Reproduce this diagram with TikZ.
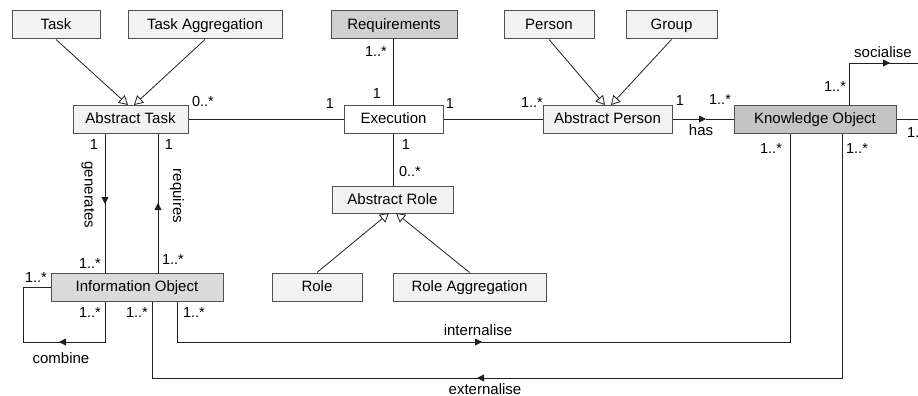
\documentclass[tikz,border=0pt]{standalone}
\usepackage{fontspec}
\setmainfont{Liberation Sans}
\usetikzlibrary{arrows.meta}

\definecolor{boxlight}{HTML}{F2F2F2}
\definecolor{boxinfo}{HTML}{DADADA}
\definecolor{boxreq}{HTML}{D0D0D0}
\definecolor{boxko}{HTML}{C4C4C4}
\definecolor{boxedge}{HTML}{505050}
\definecolor{wire}{HTML}{202020}

\tikzset{
  cls/.style={draw=boxedge, line width=1pt, minimum height=28pt, inner sep=0pt,
              text height=11pt, text depth=2pt,
              font=\fontsize{15}{18}\selectfont},
  lightcls/.style={cls, fill=boxlight},
  conn/.style={draw=wire, line width=0.8pt},
  gen/.style={conn, -{Triangle[fill=white, length=9pt, width=10pt]}},
  dirtip/.style={-{Triangle[length=7pt, width=7pt]}},
  mult/.style={inner sep=0pt, font=\fontsize{14.5}{17}\selectfont},
  rolelbl/.style={inner sep=0pt, font=\fontsize{15}{18}\selectfont},
}

\begin{document}
\begin{tikzpicture}[x=1pt, y=-1pt]
\useasboundingbox (0,0) rectangle (918,396);
\clip (0,0) rectangle (918,396);

% classes
\node[lightcls, minimum width=88pt]  (task)      at (56,25)     {Task};
\node[lightcls, minimum width=154pt] (taskagg)   at (205,25)    {Task Aggregation};
\node[lightcls, minimum width=115pt] (abstask)   at (130.5,119) {Abstract Task};
\node[cls, fill=boxreq, minimum width=126pt] (req) at (394,25)  {Requirements};
\node[cls, fill=white, minimum width=99pt] (exec) at (393.5,119) {Execution};
\node[lightcls, minimum width=90pt]  (person)    at (549,25)    {Person};
\node[lightcls, minimum width=91pt]  (group)     at (671.5,25)  {Group};
\node[lightcls, minimum width=129pt] (absperson) at (607.5,119) {Abstract Person};
\node[cls, fill=boxko, minimum width=162pt] (ko) at (815,119)   {Knowledge Object};
\node[lightcls, minimum width=121pt, minimum height=27pt] (absrole) at (392.5,199.5) {Abstract Role};
\node[lightcls, minimum width=90pt]  (role)      at (317,287)   {Role};
\node[lightcls, minimum width=153pt] (roleagg)   at (469.5,287) {Role Aggregation};
\node[cls, fill=boxinfo, minimum width=172pt] (infoobj) at (137,287) {Information Object};

% generalisations
\coordinate (tipTask)   at (128,105);
\coordinate (tipTaskAg) at (134,105);
\coordinate (tipPers)   at (605,105);
\coordinate (tipGroup)  at (611,105);
\coordinate (tipRole)   at (389,213);
\coordinate (tipRoleAg) at (396,213);
\draw[gen] (task.south)    -- (tipTask);
\draw[gen] (taskagg.south) -- (tipTaskAg);
\draw[gen] (person.south)  -- (tipPers);
\draw[gen] (group.south)   -- (tipGroup);
\draw[gen] (role.north)    -- (tipRole);
\draw[gen] (roleagg.north) -- (tipRoleAg);

% associations around Execution
\draw[conn] (abstask.east) -- (exec.west);
\draw[conn] (exec.east) -- (absperson.west);
\draw[conn] (exec.north |- req.south) -- (exec.north);
\draw[conn] (exec.south) -- (exec.south |- absrole.north);

% has
\coordinate (hasmid) at (706,119);
\draw[conn, dirtip] (absperson.east) -- (hasmid);
\draw[conn] (hasmid) -- (ko.west);

% socialise
\coordinate (soccorner) at (849,63);
\coordinate (socmid)    at (890,63);
\coordinate (socend)    at (918,63);
\draw[conn] (soccorner |- ko.north) -- (soccorner) -- (socend);
\draw[conn, dirtip] (soccorner) -- (socmid);

% outgoing line on the right of Knowledge Object
\coordinate (koout) at (918,119);
\draw[conn] (ko.east) -- (koout);

% generates / requires
\coordinate (genx)   at (105,204);
\coordinate (reqx)   at (158,203);
\draw[conn] (genx |- abstask.south) -- (genx |- infoobj.north);
\draw[conn, dirtip] (genx |- abstask.south) -- (genx);
\draw[conn] (reqx |- infoobj.north) -- (reqx |- abstask.south);
\draw[conn, dirtip] (reqx |- infoobj.north) -- (reqx);

% combine
\coordinate (cbA)   at (23,287);
\coordinate (cbB)   at (23,342);
\coordinate (cbC)   at (105,342);
\coordinate (cbmid) at (59,342);
\draw[conn] (infoobj.west) -- (cbA) -- (cbB) -- (cbC) -- (cbC |- infoobj.south);
\draw[conn, dirtip] (cbC) -- (cbmid);

% internalise
\coordinate (inIO)  at (177,342);
\coordinate (inKO)  at (790,342);
\coordinate (inmid) at (482,342);
\draw[conn] (inIO |- infoobj.south) -- (inIO) -- (inKO) -- (inKO |- ko.south);
\draw[conn, dirtip] (inIO) -- (inmid);

% externalise
\coordinate (exIO)  at (152,378);
\coordinate (exKO)  at (842,378);
\coordinate (exmid) at (477,378);
\draw[conn] (exIO |- infoobj.south) -- (exIO) -- (exKO) -- (exKO |- ko.south);
\draw[conn, dirtip] (exKO) -- (exmid);

% multiplicities
\node[mult] (mAT)   at (203,102) {0..*};
\node[mult] (mEx1)  at (330,104) {1};
\node[mult] (mReq)  at (376,52)  {1..*};
\node[mult] (mEx2)  at (377,94)  {1};
\node[mult] (mEx3)  at (450,104) {1};
\node[mult] (mAP1)  at (532,103) {1..*};
\node[mult] (mEx4)  at (406,145) {1};
\node[mult] (mAR)   at (410,172) {0..*};
\node[mult] (mAP2)  at (680,101) {1};
\node[mult] (mKO1)  at (720,100) {1..*};
\node[mult] (mKO2)  at (835,87)  {1..*};
\node[mult, anchor=west] (mKO3) at (907,133) {1..*};
\node[mult] (mKO4)  at (771,149) {1..*};
\node[mult] (mKO5)  at (857,149) {1..*};
\node[mult] (mAT1)  at (94,145)  {1};
\node[mult] (mAT2)  at (169,145) {1};
\node[mult] (mIO1)  at (90,264)  {1..*};
\node[mult] (mIO2)  at (173,260) {1..*};
\node[mult] (mIO3)  at (36,278)  {1..*};
\node[mult] (mIO4)  at (90,313)  {1..*};
\node[mult] (mIO5)  at (137,313) {1..*};
\node[mult] (mIO6)  at (194,313) {1..*};

% role names
\node[rolelbl] (lHas)  at (701,130) {has};
\node[rolelbl] (lSoc)  at (883,52)  {socialise};
\node[rolelbl, rotate=-90] (lGen) at (88,195) {generates};
\node[rolelbl, rotate=-90] (lReq) at (177,196) {requires};
\node[rolelbl] (lComb) at (61,358)  {combine};
\node[rolelbl] (lInt)  at (478,330) {internalise};
\node[rolelbl] (lExt)  at (485,389) {externalise};
\end{tikzpicture}
\end{document}
